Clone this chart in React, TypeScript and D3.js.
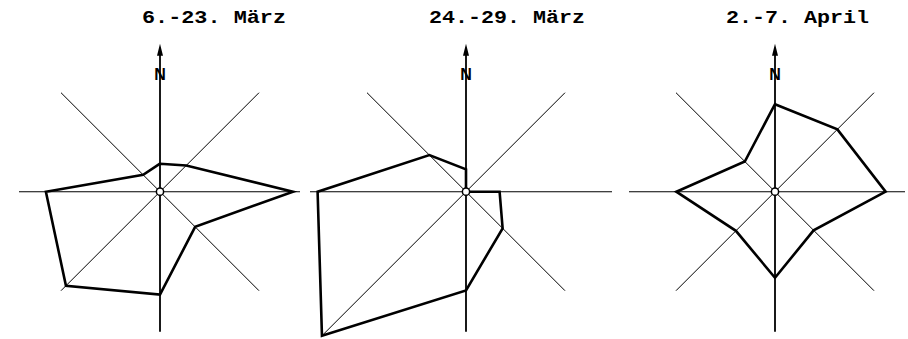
import React from "react";
import * as d3 from "d3";

// wind directions, clockwise from north
const directions = ["N", "NE", "E", "SE", "S", "SW", "W", "NW"];
const periods = ["6.-23. März", "24.-29. März", "2.-7. April"];

// frequency per direction (%)
const march6to23 = [4.0, 5.3, 19.0, 7.1, 14.7, 19.0, 16.3, 3.4];
const march24to29 = [3.2, 0, 4.8, 7.4, 14.1, 29.1, 21.2, 7.4];
const april2to7 = [12.5, 12.6, 15.8, 7.8, 12.3, 7.9, 14.1, 6.1];

const seriesList = [march6to23, march24to29, april2to7];

const width = 908;
const height = 339;
const axisLength = 140;
const centerY = 191.7;
const centersX = [160, 466, 775];
const titleX = [142, 429, 726];
const titleWidth = [144, 156, 143];
const horizontalExtent = [
  [-141, 140],
  [-156, 146],
  [-146, 130],
];

const radius = d3.scaleLinear().domain([0, 20]).range([0, axisLength]);
const angle = d3
  .scaleLinear()
  .domain([0, directions.length])
  .range([0, 2 * Math.PI]);

const radialLine = d3
  .lineRadial<number>()
  .angle((d, i) => angle(i))
  .radius((d) => radius(d))
  .curve(d3.curveLinearClosed);

const WindRose = (props: { values: number[]; cx: number; hx: number[] }) => {
  const { values, cx, hx } = props;
  const diagonals = [1, 3, 5, 7];

  return (
    <g transform={`translate(${cx},${centerY})`}>
      <line x1={hx[0]} y1="0" x2={hx[1]} y2="0" stroke="#000" strokeWidth="1.1" />
      {diagonals.map((i) => {
        const a = angle(i);
        const r = Math.max(axisLength, radius(values[i]));
        return (
          <line
            key={i}
            x1="0"
            y1="0"
            x2={Math.sin(a) * r}
            y2={-Math.cos(a) * r}
            stroke="#000"
            strokeWidth="1"
          />
        );
      })}
      <line x1="0" y1={-axisLength - 4} x2="0" y2={axisLength} stroke="#000" strokeWidth="1.8" />
      <path d={`M0,${-axisLength - 8} L-3,${-axisLength + 4} L3,${-axisLength + 4} Z`} fill="#000" />
      <text
        x="0"
        y={-centerY + 80}
        textAnchor="middle"
        fontFamily="'Liberation Sans', Arial, sans-serif"
        fontWeight="bold"
        fontSize="16"
        fill="#000"
      >
        N
      </text>
      <path d={radialLine(values) || ""} fill="none" stroke="#000" strokeWidth="2.6" strokeLinejoin="miter" />
      <circle r="3.6" fill="#fff" stroke="#000" strokeWidth="1.5" />
    </g>
  );
};

export default function App() {
  return (
    <svg
      width={width}
      height={height}
      style={{ position: "absolute", left: 0, top: 0, background: "#fff" }}
    >
      {seriesList.map((values, j) => (
        <g key={j}>
          <text
            x={titleX[j]}
            y="23"
            fontFamily="'Liberation Mono', 'Courier New', monospace"
            fontWeight="bold"
            fontSize="19"
            textLength={titleWidth[j]}
            lengthAdjust="spacingAndGlyphs"
            fill="#000"
          >
            {periods[j]}
          </text>
          <WindRose values={values} cx={centersX[j]} hx={horizontalExtent[j]} />
        </g>
      ))}
    </svg>
  );
}
